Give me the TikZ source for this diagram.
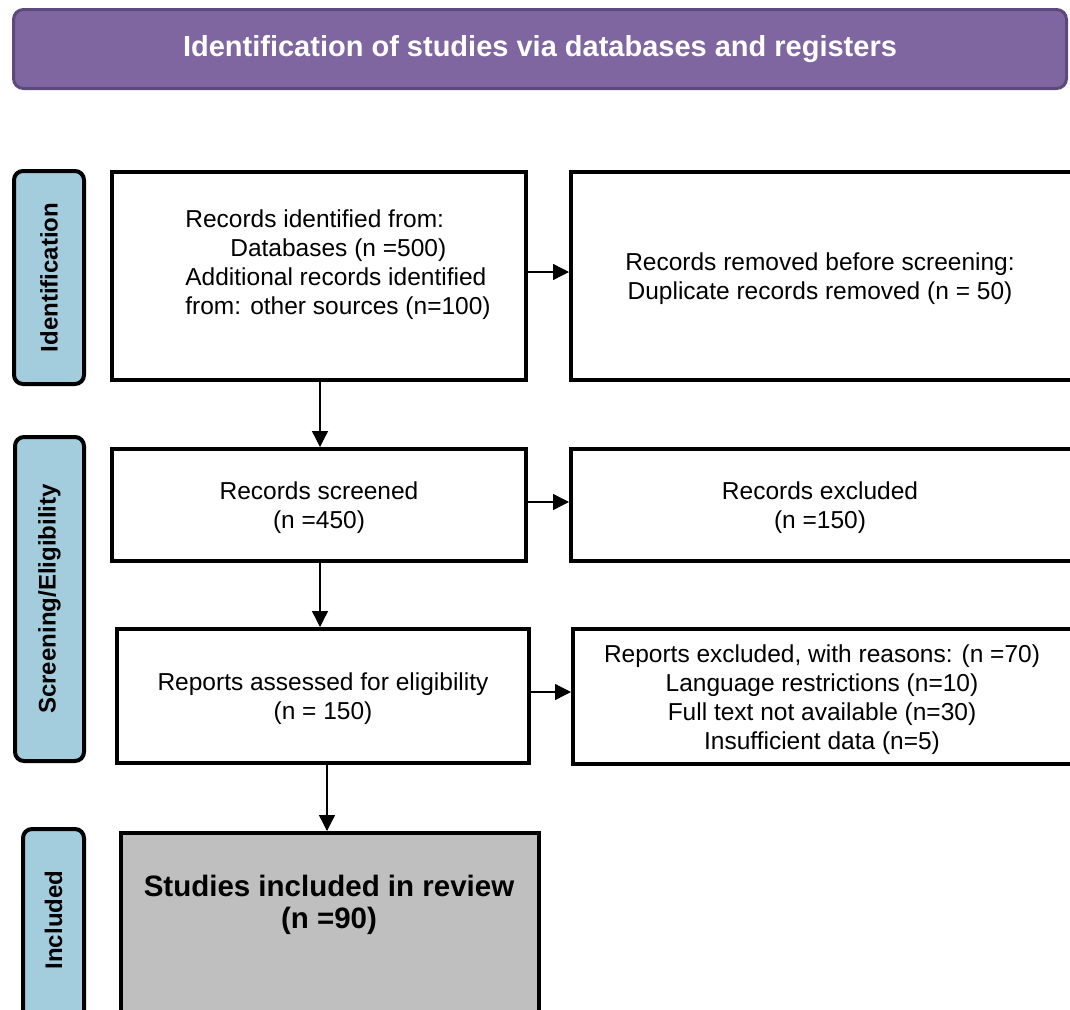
\documentclass[tikz,border=0pt]{standalone}
\usepackage{fontspec}
\setmainfont{Liberation Sans}
\usetikzlibrary{arrows.meta}
\definecolor{bannerfill}{HTML}{7F66A0}
\definecolor{bannerline}{HTML}{5C4A7C}
\definecolor{sidefill}{HTML}{A3CCDD}
\definecolor{inclfill}{HTML}{BFBFBF}
\begin{document}
\begin{tikzpicture}[x=1pt,y=-1pt,
  box/.style={draw=black, line width=4pt, fill=white, inner sep=0pt},
  boxtext/.style={font=\fontsize{24.5}{29}\selectfont, align=center, inner sep=0pt, yshift=-3pt},
  side/.style={draw=black, line width=4pt, fill=sidefill, rounded corners=9pt, inner sep=0pt},
  sidetext/.style={font=\fontsize{24}{28}\selectfont\bfseries, rotate=90, inner sep=0pt},
  banner/.style={draw=bannerline, line width=3pt, fill=bannerfill, rounded corners=10pt, inner sep=0pt},
  arr/.style={line width=1.3pt, -{Triangle[length=16pt,width=16pt]}},
]
\useasboundingbox (0,0) rectangle (1070,1009);
\clip (0,0) rectangle (1070,1009);

% banner
\node[banner, minimum width=1053pt, minimum height=79pt] (banner) at (540,49) {};
\node[font=\fontsize{29}{33}\selectfont\bfseries, text=white, inner sep=0pt] (bannertext) at (540,49) {Identification of studies via databases and registers};

% side labels
\node[side, minimum width=70pt, minimum height=213pt] (l1) at (49,277.5) {};
\node[sidetext] (l1t) at (l1) {Identification};
\node[side, minimum width=69pt, minimum height=324pt] (l2) at (49.5,599) {};
\node[sidetext] (l2t) at (l2) {Screening/Eligibility};
\node[side, minimum width=61pt, minimum height=209pt] (l3) at (53.5,933.5) {};
\node[sidetext] (l3t) at (53.5,920) {Included};

% boxes
\node[box, minimum width=414pt, minimum height=208pt] (b1) at (319,276) {};
\node[boxtext, align=left] (b1t) at (338,262) {Records identified from:\\\hspace*{45pt}Databases (n =500)\\Additional records identified\\from: other sources (n=100)};

\node[box, minimum width=517pt, minimum height=208pt] (b2) at (829.5,276) {};
\node[boxtext] (b2t) at (820,276) {Records removed before screening:\\Duplicate records removed (n = 50)};

\node[box, minimum width=414pt, minimum height=112pt] (b3) at (319,505) {};
\node[boxtext] (b3t) at (b3) {Records screened\\(n =450)};

\node[box, minimum width=517pt, minimum height=112pt] (b4) at (829.5,505) {};
\node[boxtext] (b4t) at (820,505) {Records excluded\\(n =150)};

\node[box, minimum width=412pt, minimum height=134pt] (b5) at (323,696) {};
\node[boxtext] (b5t) at (b5) {Reports assessed for eligibility\\(n = 150)};

\node[box, minimum width=515pt, minimum height=135pt] (b6) at (830.5,696.5) {};
\node[boxtext] (b6t) at (822,696.5) {Reports excluded, with reasons: (n =70)\\Language restrictions (n=10)\\Full text not available (n=30)\\Insufficient data (n=5)};

\node[box, fill=inclfill, minimum width=418pt, minimum height=205pt] (b7) at (330,935.5) {};
\node[boxtext, font=\fontsize{29.5}{32}\selectfont\bfseries] (b7t) at (329,902) {Studies included in review\\(n =90)};

% connectors
\draw[arr] ([yshift=4pt]b1.east) -- ([yshift=4pt]b1.east -| b2.west);
\draw[arr] ([yshift=3pt]b3.east) -- ([yshift=3pt]b3.east -| b4.west);
\draw[arr] ([yshift=4pt]b5.east) -- ([yshift=4pt]b5.east -| b6.west);
\draw[arr] ([xshift=1pt]b1.south) -- ([xshift=1pt]b1.south |- b3.north);
\draw[arr] ([xshift=1pt]b3.south) -- ([xshift=1pt]b3.south |- b5.north);
\draw[arr] ([xshift=4pt]b5.south) -- ([xshift=4pt]b5.south |- b7.north);
\end{tikzpicture}
\end{document}
